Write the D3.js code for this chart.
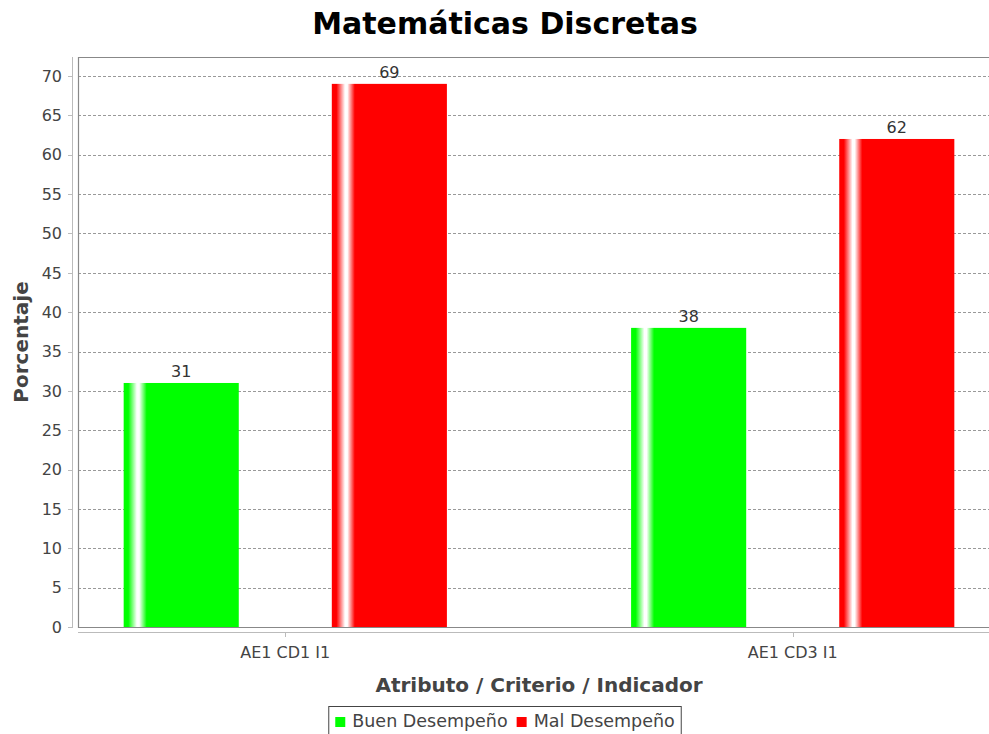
<!DOCTYPE html>
<html>
<head>
<meta charset="utf-8">
<script src="https://cdn.jsdelivr.net/npm/d3@7"></script>
<style>
  html, body { margin: 0; padding: 0; background: #fff; overflow: hidden; }
  text { font-family: "DejaVu Sans", sans-serif; }
</style>
</head>
<body>
<div id="main"></div>
<script>
const categories = ['AE1 CD1 I1', 'AE1 CD3 I1'];
const seriesNames = ['Buen Desempeño', 'Mal Desempeño'];
const buenValues = [31, 38];
const malValues = [69, 62];
const seriesColors = ['#00ff00', '#ff0000'];
const yMax = 70;
const yTickStep = 5;

const title = 'Matemáticas Discretas';
const xTitle = 'Atributo / Criterio / Indicador';
const yTitle = 'Porcentaje';

drawChart();

function drawChart() {
  const width = 989;
  const height = 734;
  // the original chart is a little wider than the picture, so lay out on 1010
  const chartWidth = 1010;
  const plot = {left: 78, right: 1000, top: 57, bottom: 627};

  const svg = d3.select('#main').append('svg')
      .attr('width', width)
      .attr('height', height);

  const defs = svg.append('defs');
  seriesColors.forEach((c, i) => {
    const g = defs.append('linearGradient')
        .attr('id', `grad-${i}`)
        .attr('x1', '0%').attr('x2', '100%')
        .attr('y1', '0%').attr('y2', '0%');
    [[0, c], [0.04, c], [0.115, '#ffffff'], [0.135, '#ffffff'], [0.2, c], [1, c]]
      .forEach(([o, col]) => g.append('stop').attr('offset', o).attr('stop-color', col));
  });

  const data = categories.map((cat, i) => ({
    cat,
    values: [buenValues[i], malValues[i]]
  }));

  const x0 = d3.scaleBand()
      .domain(categories)
      .range([plot.left, plot.right])
      .paddingInner(0.363)
      .paddingOuter(0.09);

  const x1 = d3.scaleBand()
      .domain(d3.range(seriesNames.length))
      .range([0, x0.bandwidth()])
      .paddingInner(0.447);

  const y = d3.scaleLinear()
      .domain([0, yMax])
      .range([plot.bottom, 76]);

  const yTicks = d3.range(0, yMax + 1, yTickStep);

  // gridlines
  svg.append('g')
    .selectAll('line')
    .data(yTicks.filter(d => d > 0))
    .join('line')
      .attr('x1', plot.left)
      .attr('x2', plot.right)
      .attr('y1', d => Math.round(y(d)) + 0.5)
      .attr('y2', d => Math.round(y(d)) + 0.5)
      .attr('stroke', '#999')
      .attr('stroke-width', 1)
      .attr('stroke-dasharray', '3,2');

  // bars
  const groups = svg.append('g')
    .selectAll('g')
    .data(data)
    .join('g')
      .attr('transform', d => `translate(${x0(d.cat)},0)`);

  groups.selectAll('rect')
    .data(d => d.values.map((v, i) => ({v, i})))
    .join('rect')
      .attr('x', d => x1(d.i))
      .attr('y', d => y(d.v))
      .attr('width', x1.bandwidth())
      .attr('height', d => y(0) - y(d.v))
      .attr('fill', d => `url(#grad-${d.i})`);

  groups.selectAll('text')
    .data(d => d.values.map((v, i) => ({v, i})))
    .join('text')
      .attr('x', d => x1(d.i) + x1.bandwidth() / 2)
      .attr('y', d => y(d.v) - 6)
      .attr('text-anchor', 'middle')
      .attr('font-size', 16)
      .attr('fill', '#333')
      .text(d => d.v);

  // plot border (top, left, bottom)
  svg.append('path')
      .attr('d', `M${plot.right},${plot.top + 0.5}H${plot.left + 0.5}V${plot.bottom + 0.5}H${plot.right}`)
      .attr('fill', 'none')
      .attr('stroke', '#888')
      .attr('stroke-width', 1.2);

  // y axis
  const yAxis = svg.append('g');
  yAxis.append('line')
      .attr('x1', 72.5).attr('x2', 72.5)
      .attr('y1', plot.top).attr('y2', plot.bottom + 1)
      .attr('stroke', '#bbb');
  yAxis.selectAll('line.tick')
    .data(yTicks)
    .join('line')
      .attr('class', 'tick')
      .attr('x1', 68).attr('x2', 72)
      .attr('y1', d => Math.round(y(d)) + 0.5)
      .attr('y2', d => Math.round(y(d)) + 0.5)
      .attr('stroke', '#bbb');
  yAxis.selectAll('text')
    .data(yTicks)
    .join('text')
      .attr('x', 62)
      .attr('y', d => y(d))
      .attr('dy', '0.36em')
      .attr('text-anchor', 'end')
      .attr('font-size', 16)
      .attr('fill', '#444')
      .text(d => d);

  // x axis
  const xAxis = svg.append('g');
  xAxis.append('line')
      .attr('x1', plot.left).attr('x2', plot.right)
      .attr('y1', 632.5).attr('y2', 632.5)
      .attr('stroke', '#bbb');
  xAxis.selectAll('line.tick')
    .data(categories)
    .join('line')
      .attr('class', 'tick')
      .attr('x1', d => Math.round(x0(d) + x0.bandwidth() / 2) + 0.5)
      .attr('x2', d => Math.round(x0(d) + x0.bandwidth() / 2) + 0.5)
      .attr('y1', 633).attr('y2', 637)
      .attr('stroke', '#bbb');
  xAxis.selectAll('text')
    .data(categories)
    .join('text')
      .attr('x', d => x0(d) + x0.bandwidth() / 2)
      .attr('y', 658)
      .attr('text-anchor', 'middle')
      .attr('font-size', 16)
      .attr('fill', '#444')
      .text(d => d);

  // titles
  svg.append('text')
      .attr('x', chartWidth / 2)
      .attr('y', 34)
      .attr('text-anchor', 'middle')
      .attr('font-size', 30)
      .attr('font-weight', 'bold')
      .attr('fill', '#000')
      .text(title);

  svg.append('text')
      .attr('x', (plot.left + plot.right) / 2)
      .attr('y', 692)
      .attr('text-anchor', 'middle')
      .attr('font-size', 20)
      .attr('font-weight', 'bold')
      .attr('fill', '#444')
      .text(xTitle);

  svg.append('text')
      .attr('transform', `translate(28,${(plot.top + plot.bottom) / 2}) rotate(-90)`)
      .attr('text-anchor', 'middle')
      .attr('font-size', 20)
      .attr('font-weight', 'bold')
      .attr('fill', '#444')
      .text(yTitle);

  // legend
  const legend = svg.append('g');
  const items = legend.selectAll('g')
    .data(seriesNames)
    .join('g');
  items.append('rect')
      .attr('y', 717)
      .attr('width', 10)
      .attr('height', 10)
      .attr('fill', (d, i) => seriesColors[i]);
  items.append('text')
      .attr('x', 17)
      .attr('y', 727)
      .attr('font-size', 17.5)
      .attr('fill', '#444')
      .text(d => d);

  let cursor = 0;
  const positions = [];
  items.each(function() {
    positions.push(cursor);
    cursor += this.getBBox().width + 9;
  });
  const totalW = cursor - 9;
  const startX = chartWidth / 2 - totalW / 2;
  items.attr('transform', (d, i) => `translate(${startX + positions[i]},0)`);

  legend.insert('rect', ':first-child')
      .attr('x', startX - 6.5)
      .attr('y', 706.5)
      .attr('width', totalW + 13)
      .attr('height', 40)
      .attr('fill', '#fff')
      .attr('stroke', '#444')
      .attr('stroke-width', 1);
}
</script>
</body>
</html>
